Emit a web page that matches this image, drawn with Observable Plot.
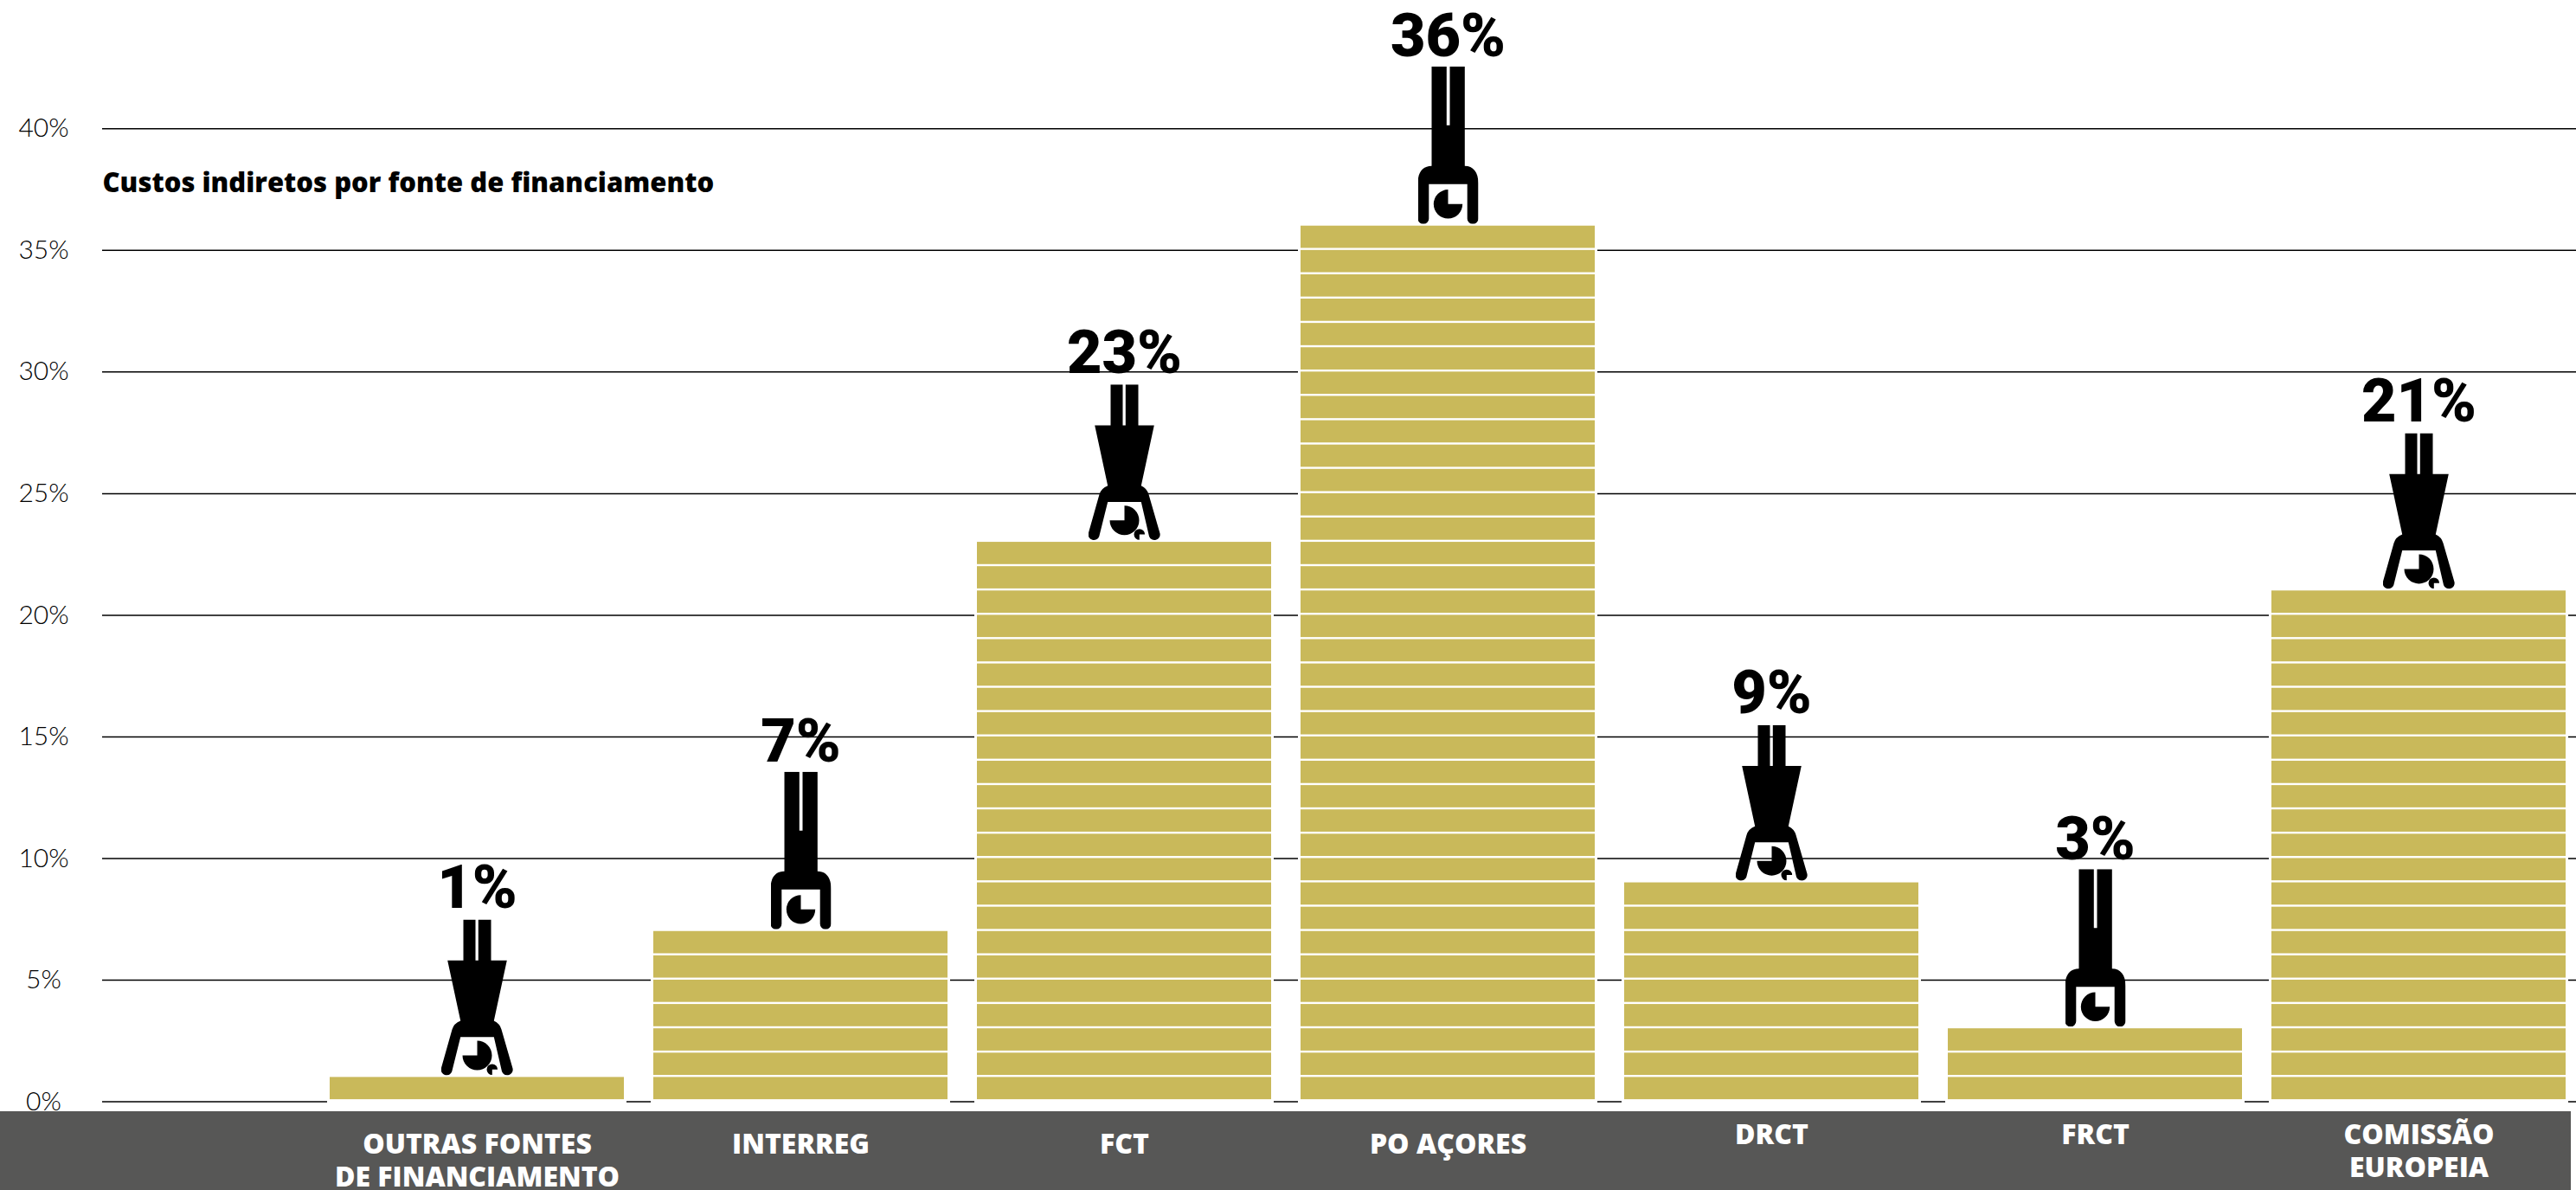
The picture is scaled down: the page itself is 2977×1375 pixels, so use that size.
<!DOCTYPE html>
<html lang="pt">
<head>
<meta charset="utf-8">
<title>Custos indiretos por fonte de financiamento</title>
<script src="https://cdn.jsdelivr.net/npm/d3@7"></script>
<script src="https://cdn.jsdelivr.net/npm/@observablehq/plot@0.6"></script>
<style>
  html, body { margin: 0; padding: 0; background: #fff; overflow: hidden; }
  #chart { position: relative; width: 2977px; height: 1375px; }
  #band { position: absolute; left: 0; top: 1284px; width: 2971px; height: 91px; background: #575756; }
  #plot { position: absolute; left: 0; top: 0; }
</style>
</head>
<body>
<div id="chart"><div id="band"></div><div id="plot"></div></div>
<script>
const title = "Custos indiretos por fonte de financiamento";
const categories = ["OUTRAS FONTES\nDE FINANCIAMENTO", "INTERREG", "FCT", "PO AÇORES", "DRCT", "FRCT", "COMISSÃO\nEUROPEIA"];
const values = [1, 7, 23, 36, 9, 3, 21];
const figures = ["skirt", "legs", "skirt", "legs", "skirt", "legs", "skirt"];
const lowLabels = ["OUTRAS FONTES\nDE FINANCIAMENTO", "INTERREG", "FCT", "PO AÇORES"];
const highLabels = ["DRCT", "FRCT", "COMISSÃO\nEUROPEIA"];
const yTicks = [0, 5, 10, 15, 20, 25, 30, 35, 40];

const BAR = "#c9b95a";
const icon = (w, h, d) => "data:image/svg+xml," + encodeURIComponent(
  `<svg xmlns="http://www.w3.org/2000/svg" width="${w}" height="${h}" viewBox="0 0 ${w} ${h}"><path fill="#000" d="${d}"/></svg>`);
const legsIcon = icon(70, 182,
  "M16 0H33.3V68H37V0H54.3V115C64 115 70 122 70 135V175.6A6.4 6.4 0 0 1 57.2 175.6V136H12.8V175.6A6.4 6.4 0 0 1 0 175.6V135C0 122 6 115 16 115Z" +
  "M35 159V142.3A16.7 16.7 0 1 0 51.7 159Z");
const skirtIcon = icon(84, 180,
  "M26 0H40V47.3H43.3V0H58V47.3H76.3L61.3 117Q68 120 70 127L83 172A6.5 6.5 0 0 1 70.5 175.5L61.3 135.7H22.7L12.8 175.5A6.5 6.5 0 0 1 0.3 172L13 127Q15 120 22.7 117L7.7 47.3H26Z" +
  "M42 157V140A17 17 0 1 1 25 157Z" +
  "M59.3 173.3H65.6A6.3 6.3 0 1 0 59.3 179.6Z");

const rows = categories.map((category, i) => ({category, value: values[i], figure: figures[i]}));
const bricks = rows.flatMap(r => d3.range(r.value).map(k => ({category: r.category, from: k, to: k + 1})));

const xLabelFont = {fontFamily: "Open Sans", fontWeight: 800, fontSize: 32, lineHeight: 1.19, fill: "#fff"};

const chart = Plot.plot({
  width: 2977,
  height: 1375,
  marginLeft: 118,
  marginRight: 0,
  marginTop: 0,
  marginBottom: 102.5,
  style: {background: "transparent", overflow: "visible"},
  x: {domain: categories, range: [378.9, 2965.9], paddingInner: 0.092, paddingOuter: 0, label: null},
  y: {domain: [0, 40], range: [1272.5, 148.3], label: null},
  marks: [
    Plot.ruleY(yTicks, {stroke: "#000", strokeWidth: 1.5}),
    Plot.barY(rows, {x: "category", y: "value", fill: "#fff", insetLeft: -3, insetRight: -3, insetBottom: -2}),
    Plot.barY(bricks, {x: "category", y1: "from", y2: "to", fill: BAR, insetBottom: 2.4}),
    Plot.image(rows.filter(r => r.figure === "legs"), {x: "category", y: "value", src: () => legsIcon, width: 70, height: 182, dy: -93.4}),
    Plot.image(rows.filter(r => r.figure === "skirt"), {x: "category", y: "value", src: () => skirtIcon, width: 84, height: 180, dy: -92.4}),
    Plot.text(rows, {x: "category", y: "value", text: r => r.value + "%", dy: -196, lineAnchor: "bottom", textAnchor: "middle",
      fontFamily: "Roboto", fontWeight: 900, fontSize: 70, fill: "#000"}),
    Plot.axisY(yTicks, {anchor: "left", tickSize: 0, tickPadding: 68, textAnchor: "middle", tickFormat: d => d + "%", label: null,
      fontFamily: "Lato", fontWeight: 300, fontSize: 30, fill: "#000"}),
    Plot.axisX(lowLabels, {anchor: "bottom", tickSize: 0, tickPadding: 33, label: null, ...xLabelFont}),
    Plot.axisX(highLabels, {anchor: "bottom", tickSize: 0, tickPadding: 22, label: null, ...xLabelFont}),
    Plot.text([title], {frameAnchor: "top-left", dy: 221, lineAnchor: "bottom", textAnchor: "start",
      fontFamily: "Open Sans", fontWeight: 800, fontSize: 31, fill: "#000"})
  ]
});
document.getElementById("plot").append(chart);
</script>
</body>
</html>
